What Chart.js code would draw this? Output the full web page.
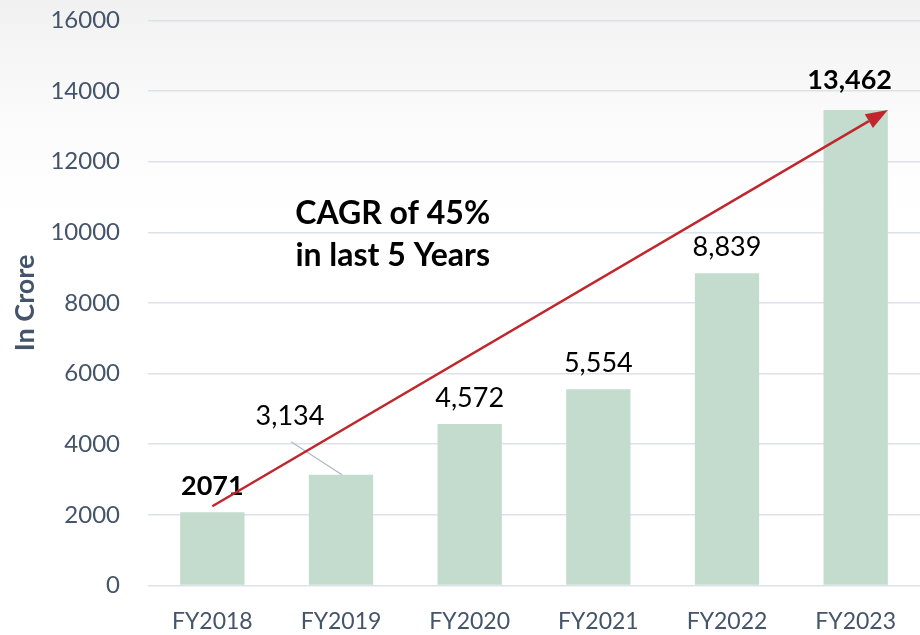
<!DOCTYPE html>
<html>
<head>
<meta charset="utf-8">
<script src="https://cdn.jsdelivr.net/npm/chart.js@4/dist/chart.umd.min.js"></script>
<style>
  html, body { margin: 0; padding: 0; }
  body { width: 920px; height: 635px; background: linear-gradient(to bottom, #f1f1f1 0px, #fbfbfb 120px, #ffffff 220px); }
  #wrap { width: 920px; height: 635px; position: relative; }
</style>
</head>
<body>
<div id="wrap"><canvas id="c" width="920" height="635"></canvas></div>
<script>
const categories = ['FY2018', 'FY2019', 'FY2020', 'FY2021', 'FY2022', 'FY2023'];
const revenue = [2071, 3134, 4572, 5554, 8839, 13462];
const valueLabels = ['2071', '3,134', '4,572', '5,554', '8,839', '13,462'];
const boldLabels = [true, false, false, false, false, true];
const yTicks = [0, 2000, 4000, 6000, 8000, 10000, 12000, 14000, 16000];
const yTitle = 'In Crore';
const cagrText = ['CAGR of 45%', 'in last 5 Years'];

const SLATE = '#44546a';
const FONT = 'Lato, "Open Sans", sans-serif';

const overlay = {
  id: 'overlay',
  afterDatasetsDraw(chart) {
    const ctx = chart.ctx;
    const ys = chart.scales.y;
    const meta = chart.getDatasetMeta(0);
    ctx.save();
    // leader line for FY2019 label
    const b1 = meta.data[1];
    ctx.strokeStyle = '#adb9ca';
    ctx.lineWidth = 1.3;
    ctx.beginPath();
    ctx.moveTo(b1.x - 50, b1.y - 33);
    ctx.lineTo(b1.x + 1, b1.y);
    ctx.stroke();

    // value labels
    ctx.textAlign = 'center';
    ctx.textBaseline = 'middle';
    revenue.forEach((v, i) => {
      const b = meta.data[i];
      ctx.fillStyle = '#000';
      ctx.font = (boldLabels[i] ? 'bold ' : '') + '27px ' + FONT;
      let x = b.x, y = b.y - 26;
      if (i === 1) { x = b.x - 51; y = b.y - 58; }
      if (i === 5) { x = b.x - 6; y = b.y - 30; }
      ctx.fillText(valueLabels[i], x, y);
    });

    // growth arrow
    const b0 = meta.data[0], b5 = meta.data[5];
    const sx = b0.x, sy = b0.y - 6;
    const ex = b5.x + b5.width / 2, ey = b5.y;
    const ang = Math.atan2(ey - sy, ex - sx);
    const head = 22, hw = 8;
    const bx = ex - head * Math.cos(ang), by = ey - head * Math.sin(ang);
    ctx.strokeStyle = '#c0272d';
    ctx.fillStyle = '#c0272d';
    ctx.lineWidth = 2.5;
    ctx.beginPath();
    ctx.moveTo(sx, sy);
    ctx.lineTo(bx, by);
    ctx.stroke();
    ctx.beginPath();
    ctx.moveTo(ex, ey);
    ctx.lineTo(bx + hw * Math.sin(ang), by - hw * Math.cos(ang));
    ctx.lineTo(bx - hw * Math.sin(ang), by + hw * Math.cos(ang));
    ctx.closePath();
    ctx.fill();

    // CAGR annotation
    const ca = chart.chartArea;
    const cx = ca.left + (ca.right - ca.left) * 0.317;
    ctx.fillStyle = '#000';
    ctx.font = 'bold 32px ' + FONT;
    ctx.fillText(cagrText[0], cx, ys.getPixelForValue(10530));
    ctx.fillText(cagrText[1], cx, ys.getPixelForValue(9330));
    ctx.restore();
  }
};

new Chart(document.getElementById('c'), {
  type: 'bar',
  data: {
    labels: categories,
    datasets: [{
      data: revenue,
      backgroundColor: '#c3dccd',
      borderWidth: 0,
      barPercentage: 0.5,
      categoryPercentage: 1.0
    }]
  },
  options: {
    responsive: false,
    animation: false,
    devicePixelRatio: 1,
    layout: { padding: { top: 0, right: 0, bottom: -22, left: 0 } },
    plugins: { legend: { display: false }, tooltip: { enabled: false } },
    scales: {
      x: {
        grid: { display: false, drawTicks: false },
        border: { display: false },
        ticks: { color: SLATE, font: { family: FONT, size: 23 }, padding: 22 }
      },
      y: {
        min: 0, max: 16000,
        afterBuildTicks(s) { s.ticks = yTicks.map(v => ({ value: v })); },
        afterFit(s) { s.width = 148; },
        grid: { color: '#dde2ea', lineWidth: 1.5, drawTicks: true, tickLength: 22, tickColor: 'rgba(0,0,0,0)' },
        border: { display: false },
        ticks: { color: SLATE, font: { family: FONT, size: 24 }, padding: 6, callback: (v) => String(v) },
        title: { display: true, text: yTitle, color: SLATE, font: { family: FONT, size: 27, weight: 'bold' }, padding: { top: 9, bottom: 0 } }
      }
    }
  },
  plugins: [overlay]
});
</script>
</body>
</html>
